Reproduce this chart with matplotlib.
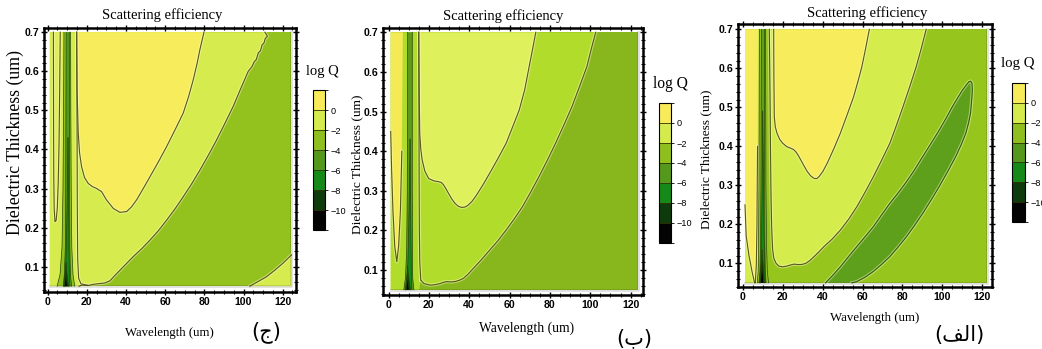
import matplotlib
matplotlib.use("Agg")
import matplotlib.pyplot as plt
from matplotlib.colors import ListedColormap, BoundaryNorm
from matplotlib.colorbar import ColorbarBase
from matplotlib.ticker import MultipleLocator

W, H = 1042, 349

# ---------------- shared data ----------------
cbar_levels = [-12, -10, -8, -6, -4, -2, 0, 2]
cbar_colors = ["#030303", "#0d3b0b", "#158a19", "#55991c", "#8fbe1f", "#d4ea4d", "#f7eb5a"]
cbar_ticks = [0, -2, -4, -6, -8, -10]
x_ticks = [0, 20, 40, 60, 80, 100, 120]
y_ticks = [0.1, 0.2, 0.3, 0.4, 0.5, 0.6, 0.7]
thick_range = [0.05, 0.70]
wl_min = 1.0
wl_max = [124.5, 123.5, 122.5]

title_text = "Scattering efficiency"
xlabel_text = "Wavelength (um)"
ylabel_text = "Dielectric Thickness (um)"
cbar_label = "log Q"
panel_tags = ["(\u062c)", "(\u0628)", "(\ufed2\ufedf\ufe8d)"]

# resonance strip thickness grid (full height strips)
res_y = [0.05, 0.08, 0.15, 0.30, 0.50, 0.70]

# ---------------- panel (ج) ----------------
c_col_green = "#93c21f"
c_col_light = "#d6eb4e"
c_col_yellow = "#f7ec5c"
c_col_lu = "#e2ee57"
# -2 contour (light / green boundary)
c_m2_x = [110.9, 112.2, 111.1, 110.4, 109.5, 108.6, 107.6, 106.5, 105.5, 104.3, 102.4, 98.5, 94.7,
          90.5, 86.2, 82.0, 77.7, 73.5, 69.2, 65.0, 60.7, 56.5, 52.2, 48.0, 43.7, 40.0, 36.9, 34.0,
          31.8, 29.0, 26.7, 23.5, 20.7, 17.5, 16.0]
c_m2_y = [0.700, 0.690, 0.684, 0.672, 0.668, 0.652, 0.648, 0.630, 0.625, 0.612, 0.600, 0.555, 0.510,
          0.467, 0.424, 0.385, 0.347, 0.312, 0.279, 0.248, 0.219, 0.192, 0.168, 0.146, 0.126, 0.107,
          0.091, 0.076, 0.064, 0.058, 0.057, 0.055, 0.052, 0.053, 0.050]
c_wall_x = [14.8, 14.9, 15.0, 15.1, 15.3, 15.8, 17.0, 20.7]
c_wall_y = [0.700, 0.550, 0.440, 0.270, 0.120, 0.070, 0.056, 0.052]
# 0 contour (yellow region)
c_yel_x = [14.8, 15.0, 15.6, 16.3, 17.3, 18.8, 20.7, 22.8, 25.0, 27.5, 30.0, 33.5, 36.9, 40.3, 42.8,
           45.4, 48.8, 52.2, 56.5, 60.7, 65.0, 69.2, 72.0, 74.3, 76.2, 77.7, 79.8]
c_yel_y = [0.700, 0.550, 0.441, 0.390, 0.356, 0.328, 0.313, 0.305, 0.300, 0.292, 0.271, 0.249, 0.239,
           0.241, 0.253, 0.271, 0.300, 0.330, 0.368, 0.407, 0.450, 0.493, 0.536, 0.578, 0.618, 0.655, 0.700]
# left narrow U
c_lu_x = [2.9, 3.0, 3.1, 3.3, 3.7, 4.3, 4.9, 5.4, 5.8, 6.1, 6.4]
c_lu_y = [0.700, 0.450, 0.330, 0.250, 0.215, 0.218, 0.250, 0.320, 0.420, 0.550, 0.700]
# lower right corner (-2 contour rising again)
c_cor_x = [103.2, 107.5, 111.7, 116.0, 120.2, 124.5]
c_cor_y = [0.050, 0.062, 0.074, 0.091, 0.109, 0.130]
# resonance strips
c_resA_l = [4.8, 6.3, 7.3, 7.8, 8.1, 8.3]
c_resA_r = [13.8, 12.9, 12.3, 12.0, 11.8, 11.7]
c_resB_l = [7.9, 8.5, 9.0, 9.2, 9.3, 9.4]
c_resB_r = [12.2, 11.6, 11.3, 11.2, 11.1, 11.0]
c_resC_y = [0.05, 0.10, 0.20, 0.32, 0.43]
c_resC_l = [8.4, 9.2, 9.7, 10.1, 10.35]
c_resC_r = [11.3, 11.0, 10.8, 10.6, 10.4]
c_resD_y = [0.05, 0.07, 0.09, 0.11]
c_resD_l = [8.2, 8.6, 9.0, 9.35]
c_resD_r = [10.6, 10.1, 9.7, 9.4]
c_resE_y = [0.05, 0.065, 0.085]
c_resE_l = [8.6, 8.9, 9.25]
c_resE_r = [10.0, 9.7, 9.3]

# ---------------- panel (ب) ----------------
b_col_right = "#87b71d"
b_col_band = "#b2dc2c"
b_col_u = "#def05c"
b_col_yellow = "#f3ea55"
b_col_dark = "#5e9a1c"
# band / right boundary
b_m4_x = [102.7, 100.5, 98.3, 94.6, 90.9, 86.9, 82.8, 78.7, 74.6, 70.5, 66.4, 62.3, 58.3, 54.2, 50.1,
          46.0, 42.0, 39.5, 37.1, 35.0, 33.0, 30.9, 28.9, 27.2, 25.6, 23.0, 20.7, 17.5, 16.0]
b_m4_y = [0.700, 0.658, 0.613, 0.562, 0.512, 0.466, 0.420, 0.377, 0.336, 0.297, 0.260, 0.229, 0.201,
          0.174, 0.150, 0.126, 0.104, 0.090, 0.079, 0.074, 0.071, 0.070, 0.071, 0.069, 0.066, 0.063,
          0.062, 0.066, 0.075]
b_wall_x = [16.0, 15.5, 15.3, 15.2, 15.1, 15.0]
b_wall_y = [0.075, 0.120, 0.200, 0.300, 0.500, 0.700]
# U interior boundary
b_u_x = [15.0, 15.2, 15.5, 16.0, 16.7, 18.0, 19.9, 22.5, 24.8, 26.2, 27.3, 28.5, 29.7, 31.3, 33.0,
         34.6, 36.2, 37.9, 39.5, 41.5, 43.6, 46.8, 50.1, 54.2, 58.3, 61.5, 64.8, 67.5, 69.7, 71.5, 73.0]
b_u_y = [0.700, 0.550, 0.445, 0.405, 0.378, 0.350, 0.331, 0.325, 0.323, 0.321, 0.315, 0.305, 0.294,
         0.280, 0.268, 0.261, 0.258, 0.259, 0.264, 0.274, 0.289, 0.315, 0.344, 0.381, 0.420, 0.461,
         0.504, 0.555, 0.613, 0.660, 0.700]
# yellow V on the left
b_v_x = [1.1, 1.1, 1.5, 2.2, 3.1, 4.1, 5.0, 5.9, 6.6, 7.1]
b_v_y = [0.700, 0.450, 0.360, 0.250, 0.160, 0.121, 0.160, 0.250, 0.400, 0.700]
# resonance strips
b_resB_l = [7.6, 8.4, 9.0, 9.3, 9.4, 9.5]
b_resB_r = [12.6, 12.0, 11.9, 11.8, 11.8, 11.8]
b_resC_y = [0.05, 0.10, 0.20, 0.32, 0.43]
b_resC_l = [8.6, 9.5, 10.0, 10.4, 10.7]
b_resC_r = [11.6, 11.3, 11.1, 10.9, 10.7]
b_resD_y = [0.05, 0.07, 0.09, 0.11]
b_resD_l = [8.3, 8.8, 9.2, 9.5]
b_resD_r = [10.8, 10.3, 9.8, 9.5]
b_resE_y = [0.05, 0.065, 0.085]
b_resE_l = [8.8, 9.1, 9.4]
b_resE_r = [10.2, 9.8, 9.4]

# ---------------- panel (الف) ----------------
a_col_green = "#96c51e"
a_col_light = "#d4ec4c"
a_col_yellow = "#f7ec5c"
a_col_ell = "#5e9f1b"
# -2 contour (light region)
a_m2_x = [91.9, 89.5, 86.9, 83.6, 80.3, 77.0, 73.7, 69.5, 65.4, 61.2, 57.1, 53.0, 48.8, 44.7, 40.6,
          38.0, 35.6, 33.5, 31.5, 29.4, 27.3, 25.6, 24.0, 22.0, 19.9, 18.0, 16.6, 15.5, 14.9, 14.4,
          14.1, 13.8, 13.6, 13.2]
a_m2_y = [0.700, 0.652, 0.604, 0.552, 0.502, 0.454, 0.408, 0.364, 0.322, 0.282, 0.245, 0.213, 0.185,
          0.162, 0.143, 0.129, 0.117, 0.107, 0.100, 0.097, 0.097, 0.098, 0.096, 0.093, 0.091, 0.093,
          0.100, 0.113, 0.134, 0.190, 0.262, 0.390, 0.519, 0.700]
# 0 contour (yellow U)
a_yel_x = [15.4, 15.5, 15.7, 16.2, 17.1, 18.4, 19.9, 22.0, 24.0, 25.3, 26.5, 27.7, 29.0, 30.6, 32.3,
           34.0, 35.6, 36.9, 38.1, 40.0, 42.2, 45.5, 48.8, 52.2, 55.5, 57.6, 59.6, 61.5, 63.4]
a_yel_y = [0.700, 0.580, 0.476, 0.450, 0.433, 0.418, 0.408, 0.399, 0.395, 0.392, 0.386, 0.377, 0.365,
           0.350, 0.335, 0.324, 0.318, 0.317, 0.322, 0.335, 0.356, 0.393, 0.433, 0.480, 0.527, 0.565,
           0.603, 0.650, 0.700]
# -4 contour (dark ellipse band)
a_ell_x = [41.4, 44.8, 48.8, 52.9, 57.1, 61.2, 65.4, 69.5, 73.7, 77.9, 82.0, 86.1, 90.2, 94.4, 98.5,
           102.0, 105.1, 107.8, 110.1, 112.0, 113.4, 114.3, 114.9, 115.1, 114.9, 114.2, 113.2, 111.8,
           109.5, 106.8, 102.8, 98.5, 94.4, 90.2, 86.1, 82.0, 77.9, 73.7, 69.5, 65.4, 61.2, 57.1, 54.6]
a_ell_y = [0.050, 0.068, 0.091, 0.117, 0.143, 0.168, 0.194, 0.224, 0.254, 0.281, 0.309, 0.340, 0.374,
           0.408, 0.442, 0.473, 0.502, 0.525, 0.544, 0.557, 0.566, 0.567, 0.562, 0.545, 0.527, 0.485,
           0.460, 0.433, 0.404, 0.374, 0.336, 0.297, 0.262, 0.228, 0.197, 0.168, 0.142, 0.117, 0.097,
           0.079, 0.064, 0.053, 0.050]
# yellow V on the left
a_v_x = [1.0, 7.5, 7.3, 7.0, 6.7, 6.2, 5.8, 4.5, 3.0, 1.6, 1.0]
a_v_y = [0.700, 0.700, 0.400, 0.200, 0.100, 0.050, 0.050, 0.080, 0.120, 0.170, 0.250]
# resonance strips
a_resA_l = [7.2, 7.6, 7.8, 8.0, 8.1, 8.2]
a_resA_r = [12.8, 12.2, 11.8, 11.5, 11.4, 11.3]
a_resB_l = [8.0, 8.5, 8.8, 9.0, 9.1, 9.2]
a_resB_r = [11.6, 11.2, 11.0, 10.9, 10.8, 10.8]
a_resC_y = [0.05, 0.10, 0.20, 0.35, 0.49]
a_resC_l = [8.5, 9.0, 9.4, 9.7, 9.9]
a_resC_r = [11.2, 10.8, 10.5, 10.2, 9.9]
a_resD_y = [0.05, 0.08, 0.11, 0.135]
a_resD_l = [8.4, 8.8, 9.3, 9.6]
a_resD_r = [10.8, 10.4, 9.9, 9.6]
a_resE_y = [0.05, 0.075, 0.10]
a_resE_l = [8.8, 9.2, 9.6]
a_resE_r = [10.4, 10.0, 9.6]

# ---------------- drawing helpers ----------------
SERIF = ["Liberation Serif", "DejaVu Serif"]
SANS = ["Liberation Sans", "DejaVu Sans"]
LINE = "#5a571a"
RLINE = "#27460b"


def rect(l, t, r, b):
    return [l / W, 1 - b / H, (r - l) / W, (b - t) / H]


def region(ax, xs, ys, color):
    ax.fill(xs, ys, facecolor=color, edgecolor="none", zorder=2)


def cline(ax, xs, ys, color=LINE, lw=0.8):
    ax.plot(xs, ys, color="#fbffc8", alpha=0.45, lw=2.4, solid_joinstyle="round", zorder=3)
    ax.plot(xs, ys, color=color, lw=lw, solid_joinstyle="round", zorder=4)


def strip(ax, ys, xl, xr, color, edge=RLINE):
    ax.fill_betweenx(ys, xl, xr, facecolor=color, edgecolor="none", zorder=2)
    ax.plot(xl, ys, color=edge, lw=0.5, zorder=4)
    ax.plot(xr, ys, color=edge, lw=0.5, zorder=4)


def background(ax, xmax, color):
    ax.fill_between([wl_min, xmax], thick_range[0], thick_range[1], facecolor=color,
                    edgecolor="none", zorder=1)
    # subtle darker rim along the bottom / right of the plotted region (3D shading)
    ax.plot([wl_min, xmax, xmax], [thick_range[0], thick_range[0], thick_range[1]],
            color="#000000", alpha=0.12, lw=2.0, zorder=5)


def style_axes(ax, xlim, ylim):
    ax.set_xlim(xlim)
    ax.set_ylim(ylim)
    ax.set_xticks(x_ticks)
    ax.set_yticks(y_ticks)
    ax.set_yticklabels([f"{v:.1f}" for v in y_ticks])
    ax.xaxis.set_minor_locator(MultipleLocator(5))
    ax.yaxis.set_minor_locator(MultipleLocator(0.02))
    ax.tick_params(which="both", direction="inout", top=True, right=True,
                   labeltop=False, labelright=False, color="black")
    ax.tick_params(which="major", length=4.5, width=1.0, pad=1.2)
    ax.tick_params(which="minor", length=2.6, width=0.8)
    for sp in ax.spines.values():
        sp.set_linewidth(1.8)
    for lab in ax.get_xticklabels() + ax.get_yticklabels():
        lab.set_fontfamily(SANS)
        lab.set_fontweight("bold")
        lab.set_fontsize(7.6)
    ax.set_facecolor("white")


def colorbar(rect_px):
    cax = fig.add_axes(rect(*rect_px))
    cmap = ListedColormap(cbar_colors)
    norm = BoundaryNorm(cbar_levels, cmap.N)
    cb = ColorbarBase(cax, cmap=cmap, norm=norm, boundaries=cbar_levels,
                      ticks=cbar_ticks, drawedges=True)
    cb.outline.set_linewidth(0.8)
    cb.dividers.set_color("#333300")
    cb.dividers.set_linewidth(0.6)
    cax.tick_params(labelsize=6.6, length=2.5, width=0.6, pad=1.2)
    for lab in cax.get_yticklabels():
        lab.set_fontfamily(SANS)
    return cax


def ftext(x, y, s, **kw):
    fig.text(x / W, 1 - y / H, s, ha="center", va="center", **kw)


fig = plt.figure(figsize=(W / 100, H / 100), dpi=100)
fig.patch.set_facecolor("white")

# ======== panel ج ========
ax = fig.add_axes(rect(44.3, 28.3, 296.0, 292.3))
background(ax, wl_max[0], c_col_green)
region(ax, [wl_min] + c_m2_x + [wl_min], [thick_range[1]] + c_m2_y + [thick_range[0]], c_col_light)
region(ax, c_cor_x + [wl_max[0]], c_cor_y + [thick_range[0]], c_col_light)
region(ax, c_lu_x, c_lu_y, c_col_lu)
strip(ax, res_y, c_resA_l, c_resA_r, c_col_green)
strip(ax, res_y, c_resB_l, c_resB_r, cbar_colors[3])
strip(ax, c_resC_y, c_resC_l, c_resC_r, cbar_colors[2])
strip(ax, c_resD_y, c_resD_l, c_resD_r, cbar_colors[1])
strip(ax, c_resE_y, c_resE_l, c_resE_r, cbar_colors[0])
region(ax, c_yel_x, c_yel_y, c_col_yellow)
cline(ax, c_m2_x, c_m2_y)
cline(ax, c_wall_x, c_wall_y)
cline(ax, c_cor_x, c_cor_y)
cline(ax, c_lu_x, c_lu_y)
cline(ax, c_yel_x, c_yel_y)
style_axes(ax, (-1.74, 126.8), (0.0344, 0.710))
colorbar((313, 90, 325, 230))
ftext(162.5, 15, title_text, family=SERIF, fontsize=10.5)
ftext(169, 333, xlabel_text, family=SERIF, fontsize=9.2)
ftext(15, 142.5, ylabel_text, family=SERIF, fontsize=12.8, rotation=90)
ftext(322, 71, cbar_label, family=SERIF, fontsize=10.5)
ftext(266, 332, panel_tags[0], family=["DejaVu Sans"], fontsize=15)

# ======== panel ب ========
ax = fig.add_axes(rect(383.3, 27.7, 643.3, 295.0))
background(ax, wl_max[1], b_col_right)
region(ax, [wl_min] + b_m4_x + [15.3, wl_min], [thick_range[1]] + b_m4_y + [thick_range[0], thick_range[0]], b_col_band)
region(ax, b_u_x, b_u_y, b_col_u)
region(ax, b_v_x, b_v_y, b_col_yellow)
strip(ax, res_y, b_resB_l, b_resB_r, b_col_dark)
strip(ax, b_resC_y, b_resC_l, b_resC_r, cbar_colors[2])
strip(ax, b_resD_y, b_resD_l, b_resD_r, cbar_colors[1])
strip(ax, b_resE_y, b_resE_l, b_resE_r, cbar_colors[0])
cline(ax, b_m4_x, b_m4_y)
cline(ax, b_wall_x, b_wall_y)
cline(ax, b_u_x, b_u_y)
cline(ax, b_v_x[1:-1], b_v_y[1:-1])
style_axes(ax, (-2.58, 126.3), (0.037, 0.7116))
colorbar((659, 103, 671, 243))
ftext(503.5, 16, title_text, family=SERIF, fontsize=10.5)
ftext(527, 328, xlabel_text, family=SERIF, fontsize=9.8)
ftext(357, 164, ylabel_text, family=SERIF, fontsize=9.6, rotation=90)
ftext(670, 84, cbar_label, family=SERIF, fontsize=11.2)
ftext(634, 338, panel_tags[1], family=["DejaVu Sans"], fontsize=15)

# ======== panel الف ========
ax = fig.add_axes(rect(737.7, 24.0, 991.7, 287.3))
background(ax, wl_max[2], a_col_green)
strip(ax, res_y, [wl_min] * len(res_y), a_resA_l, a_col_light, edge="none")
region(ax, a_m2_x, a_m2_y, a_col_light)
region(ax, a_v_x, a_v_y, a_col_yellow)
strip(ax, res_y, a_resA_l, a_resA_r, a_col_green)
strip(ax, res_y, a_resB_l, a_resB_r, a_col_ell)
strip(ax, a_resC_y, a_resC_l, a_resC_r, cbar_colors[2])
strip(ax, a_resD_y, a_resD_l, a_resD_r, cbar_colors[1])
strip(ax, a_resE_y, a_resE_l, a_resE_r, cbar_colors[0])
region(ax, a_yel_x, a_yel_y, a_col_yellow)
region(ax, a_ell_x, a_ell_y, a_col_ell)
cline(ax, a_m2_x, a_m2_y)
cline(ax, a_yel_x, a_yel_y)
cline(ax, a_v_x[2:], a_v_y[2:])
cline(ax, a_ell_x, a_ell_y, color="#2f5a0c")
style_axes(ax, (-2.66, 124.8), (0.0385, 0.7136))
colorbar((1012, 83, 1025, 222))
ftext(866.7, 13.5, title_text, family=SERIF, fontsize=10.5)
ftext(875, 318, xlabel_text, family=SERIF, fontsize=9.3)
ftext(706, 159, ylabel_text, family=SERIF, fontsize=9.6, rotation=90)
ftext(1018, 64, cbar_label, family=SERIF, fontsize=10.6)
ftext(959, 335, panel_tags[2], family=["DejaVu Sans"], fontsize=15)

fig.savefig("out.png", dpi=100, facecolor="white")
